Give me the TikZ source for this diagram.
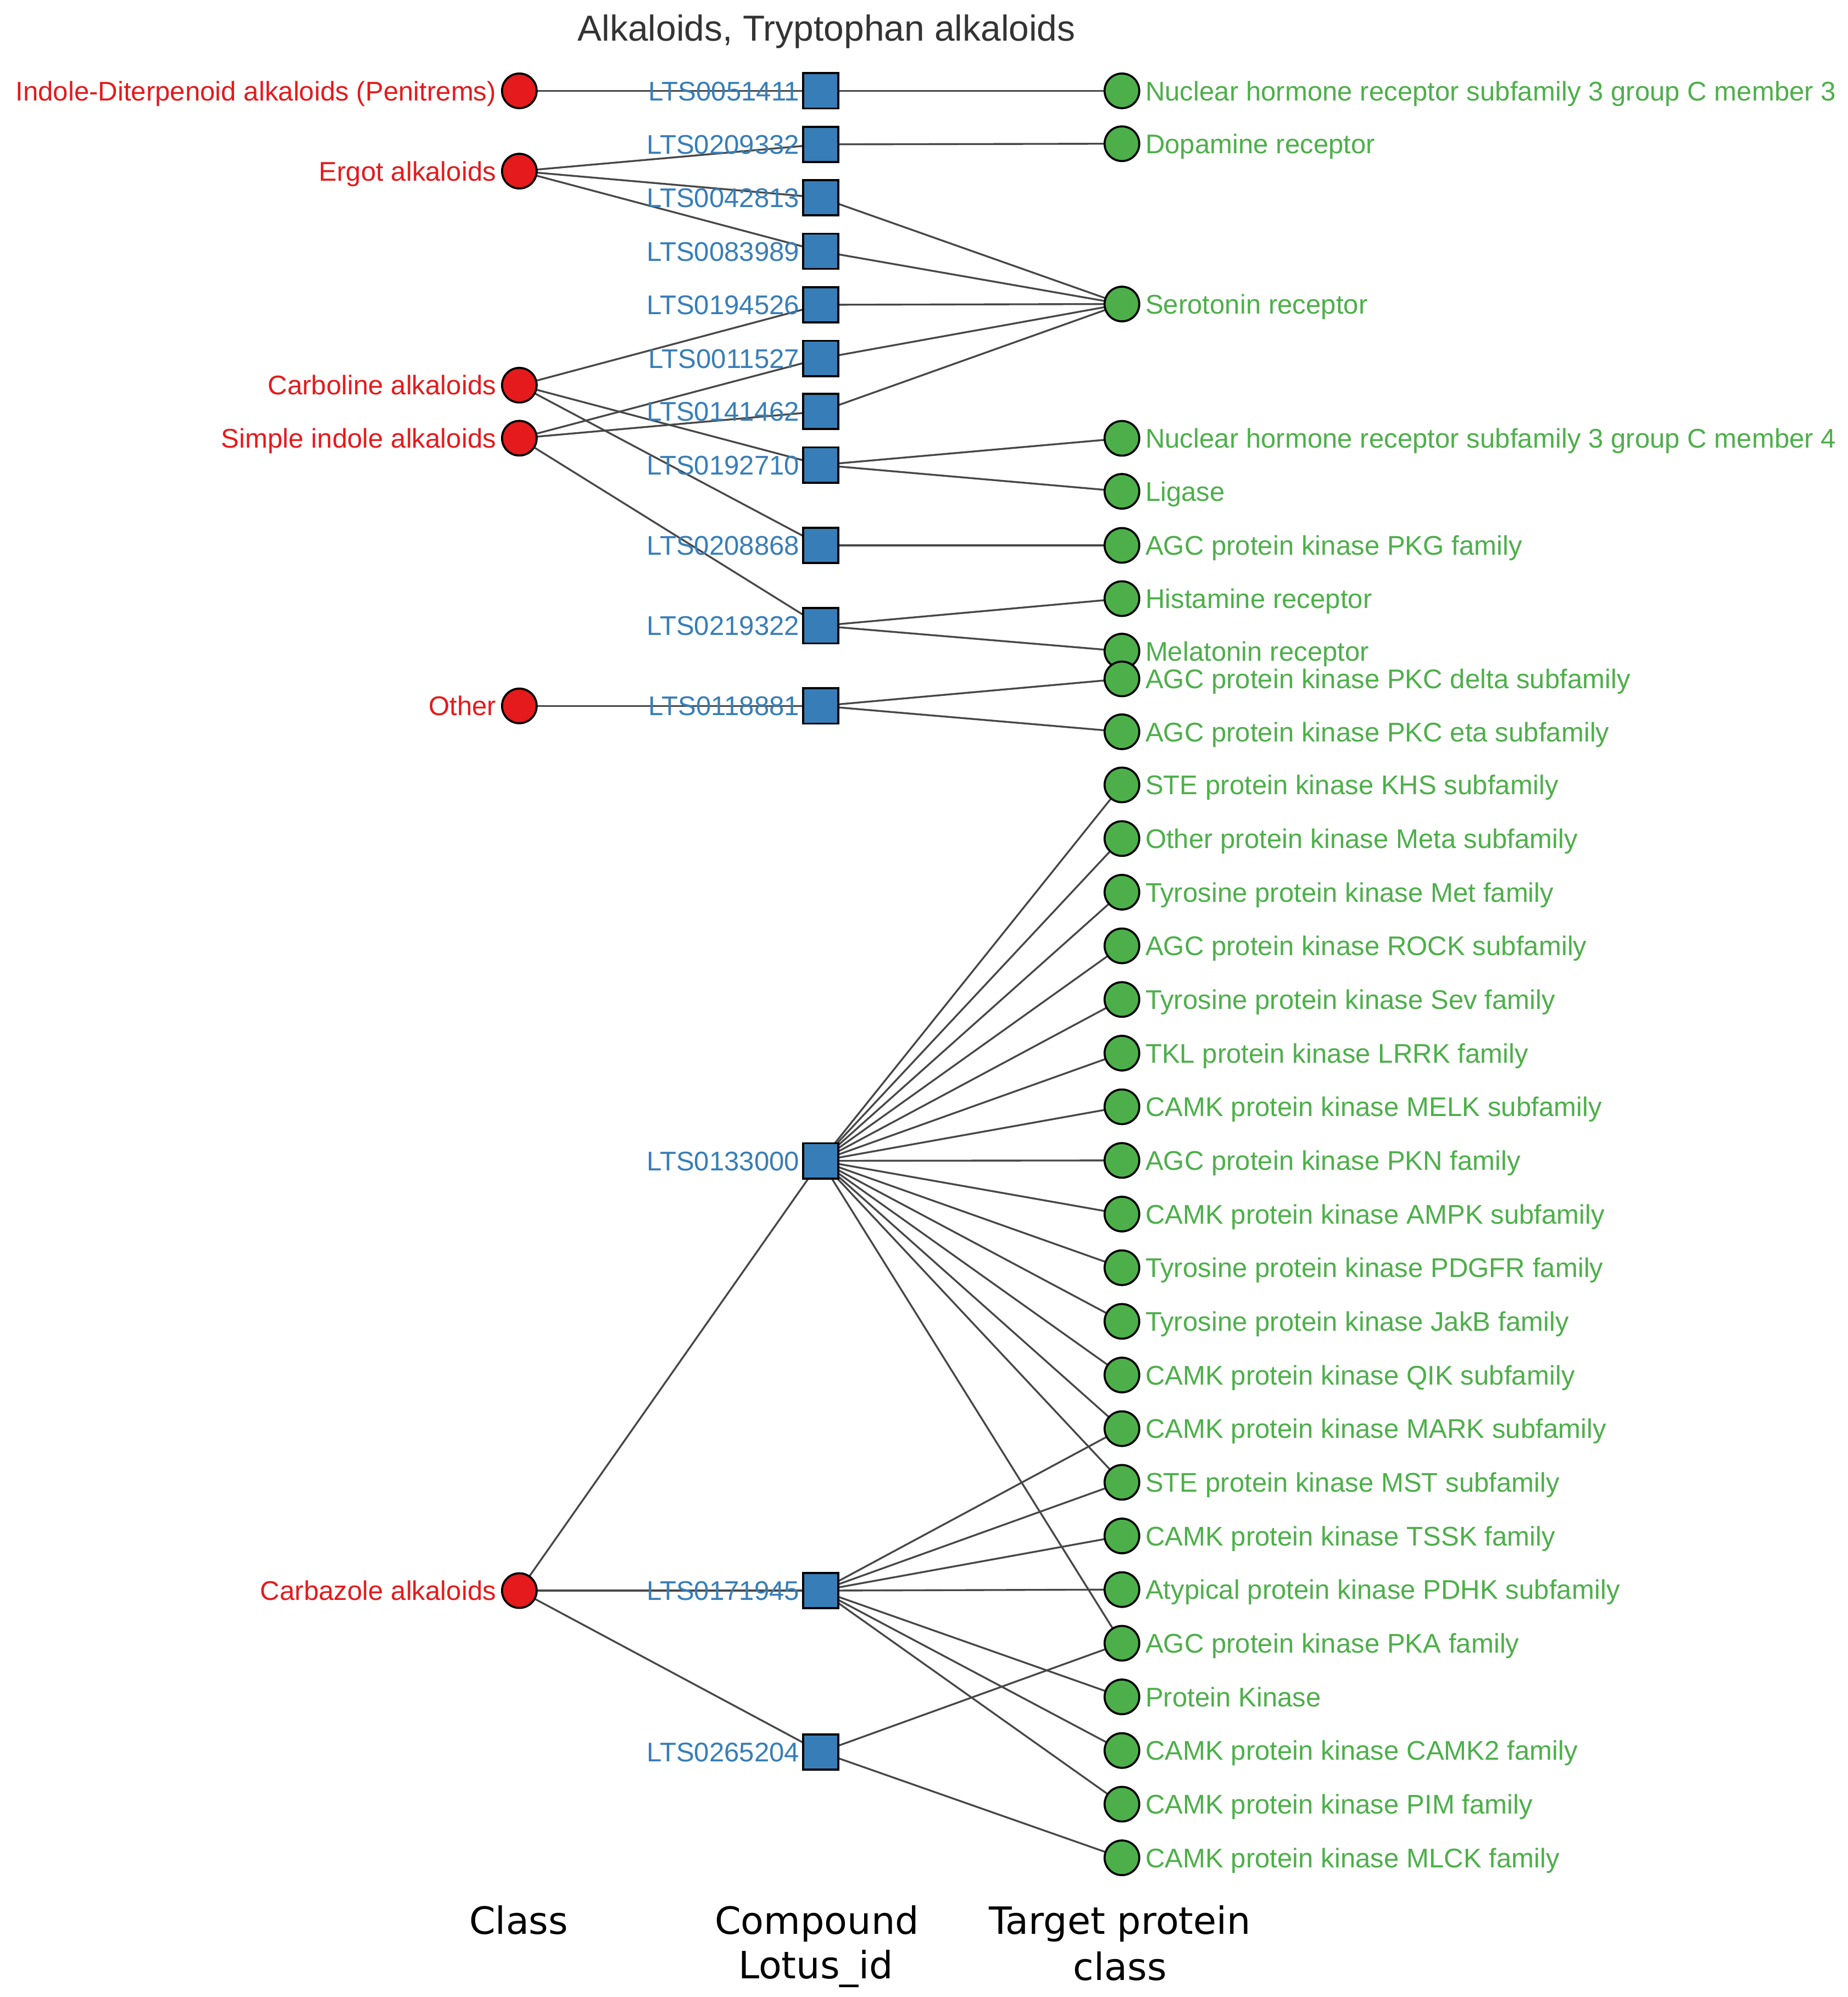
\documentclass[tikz,border=0pt]{standalone}
\usepackage{fontspec}
\setmainfont{Liberation Sans}
\newfontfamily\dejavu{DejaVu Sans}
\pgfdeclarelayer{edgelayer}
\pgfsetlayers{edgelayer,main}
\definecolor{cred}{HTML}{E41A1C}
\definecolor{cblue}{HTML}{377EB8}
\definecolor{cgreen}{HTML}{4DAF4A}
\definecolor{cedge}{HTML}{474747}
\definecolor{ctitle}{HTML}{333333}
\tikzset{
  classdot/.style={circle, draw=black, line width=1.6pt, fill=cred, minimum size=27.2pt, inner sep=0pt},
  cmpbox/.style={rectangle, draw=black, line width=1.6pt, fill=cblue, minimum size=27.7pt, inner sep=0pt},
  tgtdot/.style={circle, draw=black, line width=1.6pt, fill=cgreen, minimum size=27.2pt, inner sep=0pt},
  lbl/.style={inner sep=0pt, font=\fontsize{21.2}{25}\selectfont},
  classlbl/.style={lbl, text=cred, anchor=base east},
  cmplbl/.style={lbl, text=cblue, anchor=base east},
  tgtlbl/.style={lbl, text=cgreen, anchor=base west},
  link/.style={draw=cedge, line width=1.45pt},
  axislbl/.style={font=\dejavu\fontsize{29.5}{34.7}\selectfont, inner sep=0pt, anchor=base, text=black},
  titlelbl/.style={font=\fontsize{28.4}{32}\selectfont, inner sep=0pt, anchor=base, text=ctitle}
}
\newcommand{\clsnode}[3]{\node[classdot] (#1) at (407.5,#2) {}; \node[classlbl] (#1-l) at (389.5,{#2+7.6}) {#3};}
\newcommand{\cmpnode}[3]{\node[cmpbox] (#1) at (644,#2) {}; \node[cmplbl] (#1-l) at (627.5,{#2+7.6}) {#3};}
\newcommand{\tgtnode}[3]{\node[tgtdot] (#1) at (880.3,#2) {}; \node[tgtlbl] (#1-l) at (898.5,{#2+7.6}) {#3};}
\begin{document}
\begin{tikzpicture}[x=1pt,y=-1pt]
\useasboundingbox (0,0) rectangle (1450,1567.25);
\node[titlelbl] (title) at (648.6,32.2) {Alkaloids, Tryptophan alkaloids};
% class nodes
\clsnode{c1}{71.3}{Indole-Diterpenoid alkaloids (Penitrems)}
\clsnode{c2}{134.3}{Ergot alkaloids}
\clsnode{c3}{302.3}{Carboline alkaloids}
\clsnode{c4}{343.9}{Simple indole alkaloids}
\clsnode{c5}{554}{Other}
\clsnode{c6}{1248.3}{Carbazole alkaloids}
% compound nodes
\cmpnode{m1}{71.3}{LTS0051411}
\cmpnode{m2}{113.3}{LTS0209332}
\cmpnode{m3}{155.1}{LTS0042813}
\cmpnode{m4}{197.2}{LTS0083989}
\cmpnode{m5}{239.2}{LTS0194526}
\cmpnode{m6}{281.3}{LTS0011527}
\cmpnode{m7}{322.9}{LTS0141462}
\cmpnode{m8}{364.9}{LTS0192710}
\cmpnode{m9}{428}{LTS0208868}
\cmpnode{m10}{491.1}{LTS0219322}
\cmpnode{m11}{554}{LTS0118881}
\cmpnode{m12}{911}{LTS0133000}
\cmpnode{m13}{1248.3}{LTS0171945}
\cmpnode{m14}{1375}{LTS0265204}
% target nodes
\tgtnode{t1}{71.3}{Nuclear hormone receptor subfamily 3 group C member 3}
\tgtnode{t2}{112.8}{Dopamine receptor}
\tgtnode{t3}{238.6}{Serotonin receptor}
\tgtnode{t4}{344}{Nuclear hormone receptor subfamily 3 group C member 4}
\tgtnode{t5}{385.6}{Ligase}
\tgtnode{t6}{428}{AGC protein kinase PKG family}
\tgtnode{t7}{469.8}{Histamine receptor}
\tgtnode{t8}{511}{Melatonin receptor}
\tgtnode{t9}{532.8}{AGC protein kinase PKC delta subfamily}
\tgtnode{t10}{574.3}{AGC protein kinase PKC eta subfamily}
\tgtnode{t11}{616}{STE protein kinase KHS subfamily}
\tgtnode{t12}{658.1}{Other protein kinase Meta subfamily}
\tgtnode{t13}{700.2}{Tyrosine protein kinase Met family}
\tgtnode{t14}{742.3}{AGC protein kinase ROCK subfamily}
\tgtnode{t15}{784.4}{Tyrosine protein kinase Sev family}
\tgtnode{t16}{826.5}{TKL protein kinase LRRK family}
\tgtnode{t17}{868.6}{CAMK protein kinase MELK subfamily}
\tgtnode{t18}{910.7}{AGC protein kinase PKN family}
\tgtnode{t19}{952.8}{CAMK protein kinase AMPK subfamily}
\tgtnode{t20}{994.9}{Tyrosine protein kinase PDGFR family}
\tgtnode{t21}{1037}{Tyrosine protein kinase JakB family}
\tgtnode{t22}{1079.1}{CAMK protein kinase QIK subfamily}
\tgtnode{t23}{1121.2}{CAMK protein kinase MARK subfamily}
\tgtnode{t24}{1163.3}{STE protein kinase MST subfamily}
\tgtnode{t25}{1205.4}{CAMK protein kinase TSSK family}
\tgtnode{t26}{1247.5}{Atypical protein kinase PDHK subfamily}
\tgtnode{t27}{1289.6}{AGC protein kinase PKA family}
\tgtnode{t28}{1331.7}{Protein Kinase}
\tgtnode{t29}{1373.8}{CAMK protein kinase CAMK2 family}
\tgtnode{t30}{1415.9}{CAMK protein kinase PIM family}
\tgtnode{t31}{1458}{CAMK protein kinase MLCK family}
% connectors
\begin{pgfonlayer}{edgelayer}
\foreach \a/\b in {c1/m1, c2/m2, c2/m3, c2/m4, c3/m5, c3/m8, c3/m9, c4/m6, c4/m7, c4/m10,
  c5/m11, c6/m12, c6/m13, c6/m14,
  m1/t1, m2/t2, m3/t3, m4/t3, m5/t3, m6/t3, m7/t3, m8/t4, m8/t5, m9/t6, m10/t7, m10/t8,
  m11/t9, m11/t10,
  m12/t11, m12/t12, m12/t13, m12/t14, m12/t15, m12/t16, m12/t17, m12/t18, m12/t19, m12/t20,
  m12/t21, m12/t22, m12/t23, m12/t24, m12/t27,
  m13/t23, m13/t24, m13/t25, m13/t26, m13/t28, m13/t29, m13/t30,
  m14/t27, m14/t31}
  \draw[link] (\a.center) -- (\b.center);
\end{pgfonlayer}
% axis labels
\node[axislbl] (ax1) at (407,1518) {Class};
\node[axislbl] (ax2a) at (641,1518) {Compound};
\node[axislbl] (ax2b) at (640,1553) {Lotus\_id};
\node[axislbl] (ax3a) at (878.8,1518) {Target protein};
\node[axislbl] (ax3b) at (878.8,1554) {class};
\end{tikzpicture}
\end{document}
